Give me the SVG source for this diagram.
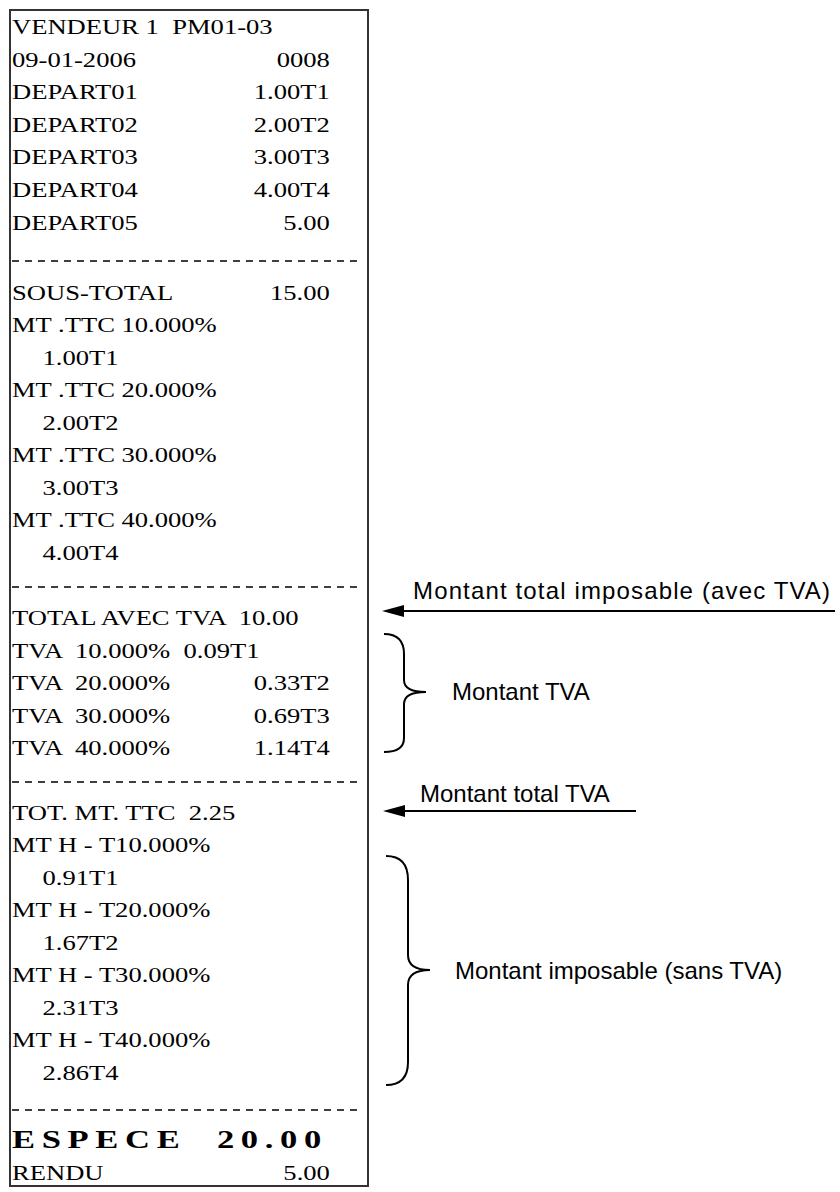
<svg xmlns="http://www.w3.org/2000/svg" width="840" height="1192" viewBox="0 0 840 1192">
<style>
.r{font-family:"Liberation Serif",serif;font-size:20px;fill:#000;white-space:pre}
.e{text-anchor:end}
.s{font-family:"Liberation Sans",Arial,sans-serif;font-size:24px;fill:#000}
.d{stroke:#000;stroke-width:1.5;stroke-dasharray:7,6}
.c{stroke:#000;stroke-width:2;fill:none}
</style>
<rect width="840" height="1192" fill="#fff"/>
<g id="receipt">
<rect x="10" y="10" width="358" height="1176" fill="#fff" stroke="#333" stroke-width="2"/>
<line class="d" x1="12" y1="261" x2="362" y2="261"/>
<line class="d" x1="12" y1="587" x2="362" y2="587"/>
<line class="d" x1="12" y1="782" x2="362" y2="782"/>
<line class="d" x1="12" y1="1110" x2="362" y2="1110"/>
<g transform="translate(12,0) scale(1.33,1) translate(-12,0)" xml:space="preserve">
<text class="r" x="12" y="34">VENDEUR 1  PM01-03</text>
<text class="r" x="12" y="67">09-01-2006</text><text class="r e" x="251" y="67">0008</text>
<text class="r" x="12" y="99">DEPART01</text><text class="r e" x="251" y="99">1.00T1</text>
<text class="r" x="12" y="132">DEPART02</text><text class="r e" x="251" y="132">2.00T2</text>
<text class="r" x="12" y="164">DEPART03</text><text class="r e" x="251" y="164">3.00T3</text>
<text class="r" x="12" y="197">DEPART04</text><text class="r e" x="251" y="197">4.00T4</text>
<text class="r" x="12" y="230">DEPART05</text><text class="r e" x="251" y="230">5.00</text>
<text class="r" x="12" y="300">SOUS-TOTAL</text><text class="r e" x="251" y="300">15.00</text>
<text class="r" x="12" y="332">MT .TTC 10.000%</text><text class="r" x="35" y="365">1.00T1</text>
<text class="r" x="12" y="397">MT .TTC 20.000%</text><text class="r" x="35" y="430">2.00T2</text>
<text class="r" x="12" y="462">MT .TTC 30.000%</text><text class="r" x="35" y="495">3.00T3</text>
<text class="r" x="12" y="527">MT .TTC 40.000%</text><text class="r" x="35" y="560">4.00T4</text>
<text class="r" x="12" y="625">TOTAL AVEC TVA  10.00</text>
<text class="r" x="12" y="658">TVA  10.000%  0.09T1</text>
<text class="r" x="12" y="690">TVA  20.000%</text><text class="r e" x="251" y="690">0.33T2</text>
<text class="r" x="12" y="723">TVA  30.000%</text><text class="r e" x="251" y="723">0.69T3</text>
<text class="r" x="12" y="755">TVA  40.000%</text><text class="r e" x="251" y="755">1.14T4</text>
<text class="r" x="12" y="820">TOT. MT. TTC  2.25</text>
<text class="r" x="12" y="852">MT H - T10.000%</text><text class="r" x="35" y="885">0.91T1</text>
<text class="r" x="12" y="917">MT H - T20.000%</text><text class="r" x="35" y="950">1.67T2</text>
<text class="r" x="12" y="982">MT H - T30.000%</text><text class="r" x="35" y="1015">2.31T3</text>
<text class="r" x="12" y="1047">MT H - T40.000%</text><text class="r" x="35" y="1080">2.86T4</text>
<text class="r" x="12" y="1148" style="font-size:26px;font-weight:bold;letter-spacing:5px">ESPECE  20.00</text>
<text class="r" x="12" y="1180">RENDU</text><text class="r e" x="251" y="1180">5.00</text>
</g>
</g>
<g id="connectors">
<line class="c" x1="835" y1="611" x2="402" y2="611"/>
<polygon points="382,611 404,605 404,617" fill="#000"/>
<line class="c" x1="636" y1="811" x2="403" y2="811"/>
<polygon points="383,811 405,805 405,817" fill="#000"/>
<path class="c" d="M384,634 Q404,634 404,654 L404,680 Q404,692 426,692 Q404,692 404,704 L404,738 Q404,752 384,752"/>
<path class="c" d="M386,856 Q408,856 408,880 L408,955 Q408,970 430,970 Q408,970 408,985 L408,1062 Q408,1085 386,1085"/>
</g>
<g id="labels">
<text class="s" x="413" y="599" textLength="417">Montant total imposable (avec TVA)</text>
<text class="s" x="452" y="700">Montant TVA</text>
<text class="s" x="420" y="802">Montant total TVA</text>
<text class="s" x="455" y="979">Montant imposable (sans TVA)</text>
</g>
</svg>
